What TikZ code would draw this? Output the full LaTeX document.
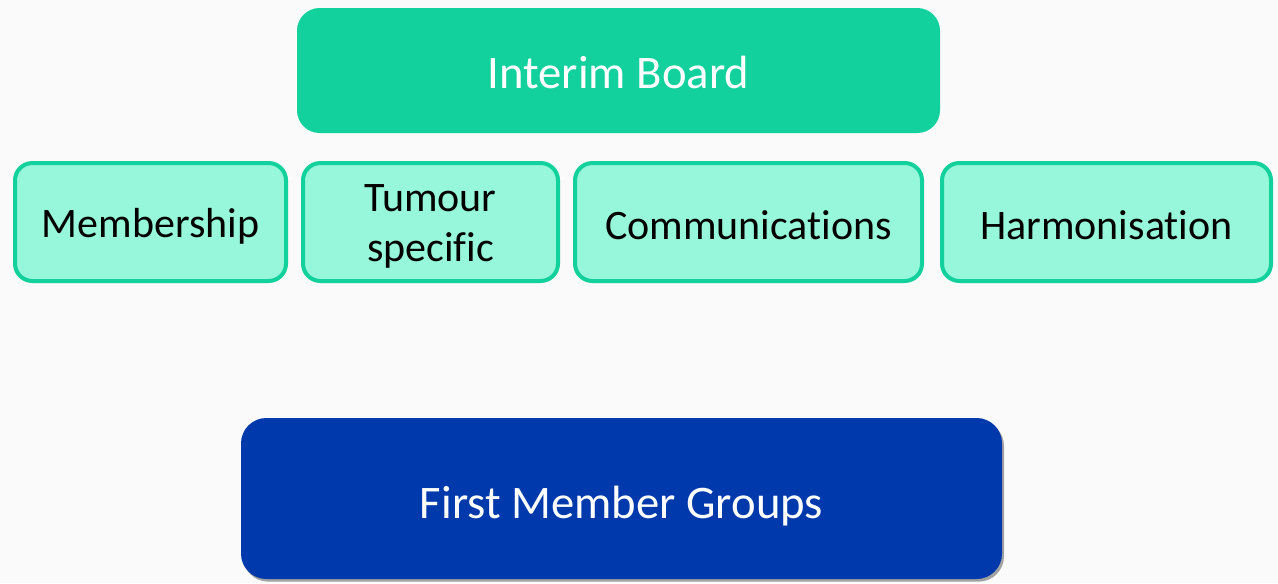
\documentclass[tikz,border=0pt]{standalone}
\usepackage{fontspec}
\setmainfont{Carlito}[Ligatures=NoCommon]
\usetikzlibrary{shadows}
\definecolor{bgcol}{HTML}{FAFAFA}
\definecolor{boardgreen}{HTML}{13D19D}
\definecolor{mint}{HTML}{96F7DA}
\definecolor{groupblue}{HTML}{0039AB}
\tikzset{
  bigbox/.style={rectangle, rounded corners=17pt, inner sep=0pt},
  bigtext/.style={align=center, text=white, inner sep=0pt,
    font=\fontsize{35}{42}\selectfont},
  subbox/.style={rectangle, rounded corners=13pt, draw=boardgreen, line width=3pt,
    fill=mint, minimum height=88.5pt, inner sep=0pt},
  subtext/.style={align=center, text=black, inner sep=0pt,
    font=\fontsize{31.5}{37.5}\selectfont},
}
\begin{document}
\begin{tikzpicture}[x=0.75pt, y=-0.75pt]
\useasboundingbox (0,0) rectangle (1278,583);
\clip (0,0) rectangle (1278,583);
\fill[bgcol] (0,0) rectangle (1278,583);
\node[bigbox, fill=boardgreen, minimum width=482.25pt, minimum height=93.75pt] (board) at (618.5,70.5) {};
\node[bigtext] (boardtext) at ([yshift=-1.5pt]board.center) {Interim Board};
\node[subbox, minimum width=203.25pt] (membership) at (150.5,222) {};
\node[subbox, minimum width=191.25pt] (tumour) at (430.5,222) {};
\node[subbox, minimum width=260.25pt] (comms) at (748.5,222) {};
\node[subbox, minimum width=246.75pt] (harmon) at (1106.5,222) {};
\node[subtext] (membershiptext) at ([yshift=-3.5pt]membership.center) {Membership};
\node[subtext] (tumourtext) at ([yshift=-3.5pt]tumour.center) {Tumour\\specific};
\node[subtext] (commstext) at ([yshift=-2.5pt]comms.center) {Communications};
\node[subtext] (harmontext) at ([yshift=-2.5pt]harmon.center) {Harmonisation};
\node[bigbox, fill=groupblue, rounded corners=19pt, minimum width=570.75pt, minimum height=120.75pt,
  drop shadow={shadow xshift=1.5pt, shadow yshift=-2pt, opacity=0.35, fill=black}] (groups) at (621.5,498.5) {};
\node[bigtext] (groupstext) at ([yshift=-5.5pt]groups.center) {First Member Groups};
\end{tikzpicture}
\end{document}
